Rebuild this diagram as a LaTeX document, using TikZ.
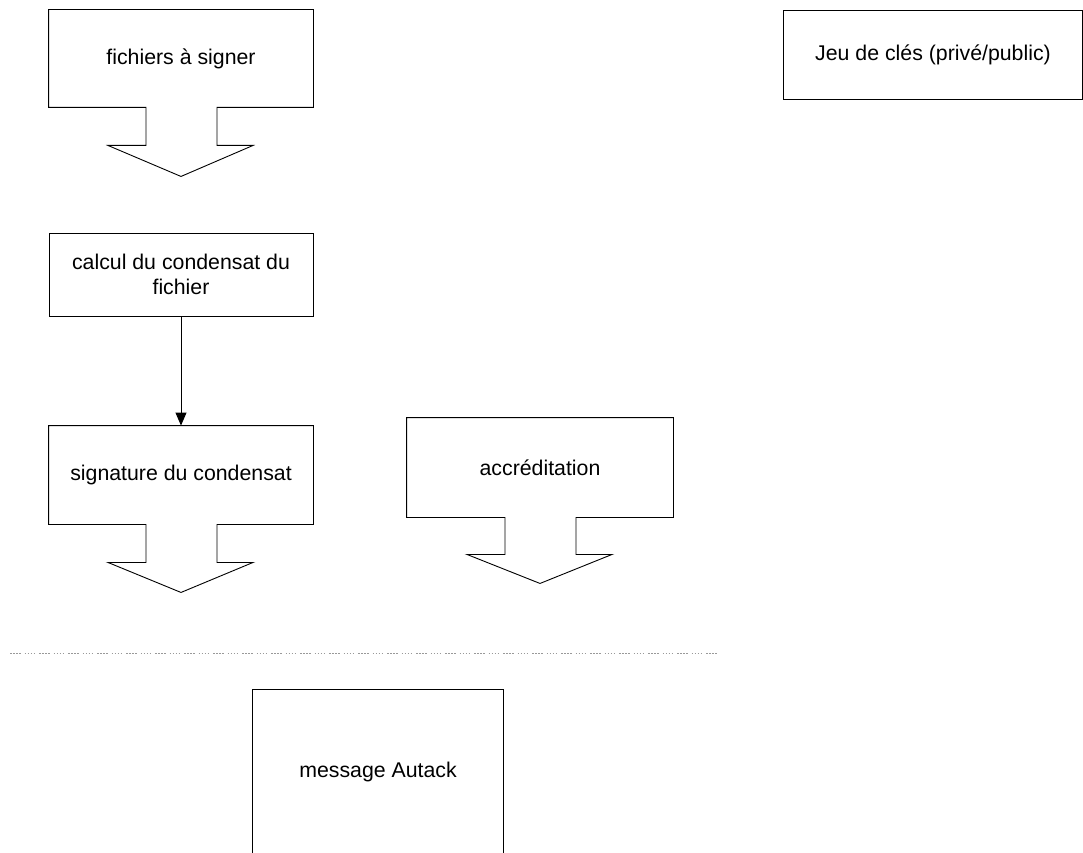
\documentclass[tikz,border=0pt]{standalone}
\usepackage{fontspec}
\setmainfont{Liberation Sans}
\usetikzlibrary{arrows.meta}
\tikzset{
  box/.style={draw=black, line width=0.9pt, rectangle, inner sep=0pt, align=center,
              font=\fontsize{21.3}{25}\selectfont},
  hidebox/.style={box, draw=none},
  link/.style={draw=black, line width=0.9pt, -{Triangle[length=13pt,width=11pt]}},
  outline/.style={draw=black, line width=0.9pt, line join=miter},
  sep/.style={draw=gray!80, line width=1pt, dash pattern=on 1.5pt off 1.5pt on 1.5pt off 1.5pt on 1.5pt off 1.5pt on 1.5pt off 4pt}
}
% callout box with downward arrow: #1 node, #2 stem length, #3 tip depth
\newcommand{\downcallout}[3]{%
  \draw[outline] (#1.north west) -- (#1.north east) -- (#1.south east)
    -- ([xshift=36pt]#1.south) -- ([xshift=36pt,yshift=-#2pt]#1.south)
    -- ([xshift=72pt,yshift=-#2pt]#1.south) -- ([yshift=-#3pt]#1.south)
    -- ([xshift=-73pt,yshift=-#2pt]#1.south) -- ([xshift=-35pt,yshift=-#2pt]#1.south)
    -- ([xshift=-35pt]#1.south) -- (#1.south west) -- cycle;}
\begin{document}
\begin{tikzpicture}[x=1pt, y=-1pt]
\useasboundingbox (0,0) rectangle (1083,853);
% nodes
\node[hidebox, minimum width=264pt, minimum height=97pt] (fich) at (181,58.5) {fichiers à signer};
\node[box, minimum width=264pt, minimum height=83pt] (calc) at (181,274.5) {calcul du condensat du\\fichier};
\node[hidebox, minimum width=264pt, minimum height=98pt] (sign) at (181,475) {signature du condensat};
\node[hidebox, minimum width=266pt, minimum height=99pt] (accr) at (540,467.5) {accréditation};
\node[box, minimum width=299pt, minimum height=89pt] (jeu) at (933,54.5) {Jeu de clés (privé/public)};
% callouts
\downcallout{fich}{38}{69}
\downcallout{sign}{38}{68}
\downcallout{accr}{37}{66}
% connector
\draw[link] (calc.south) -- (sign.north);
% separator
\coordinate (sepL) at (10,653);
\coordinate (sepR) at (717,653);
\draw[sep] (sepL) -- (sepR);
% bottom box (cut off at the bottom edge)
\node[hidebox, minimum width=250pt, minimum height=163pt] (msg) at (378,771.5) {message Autack};
\draw[outline] (msg.south west) -- (msg.north west) -- (msg.north east) -- (msg.south east);
\end{tikzpicture}
\end{document}
